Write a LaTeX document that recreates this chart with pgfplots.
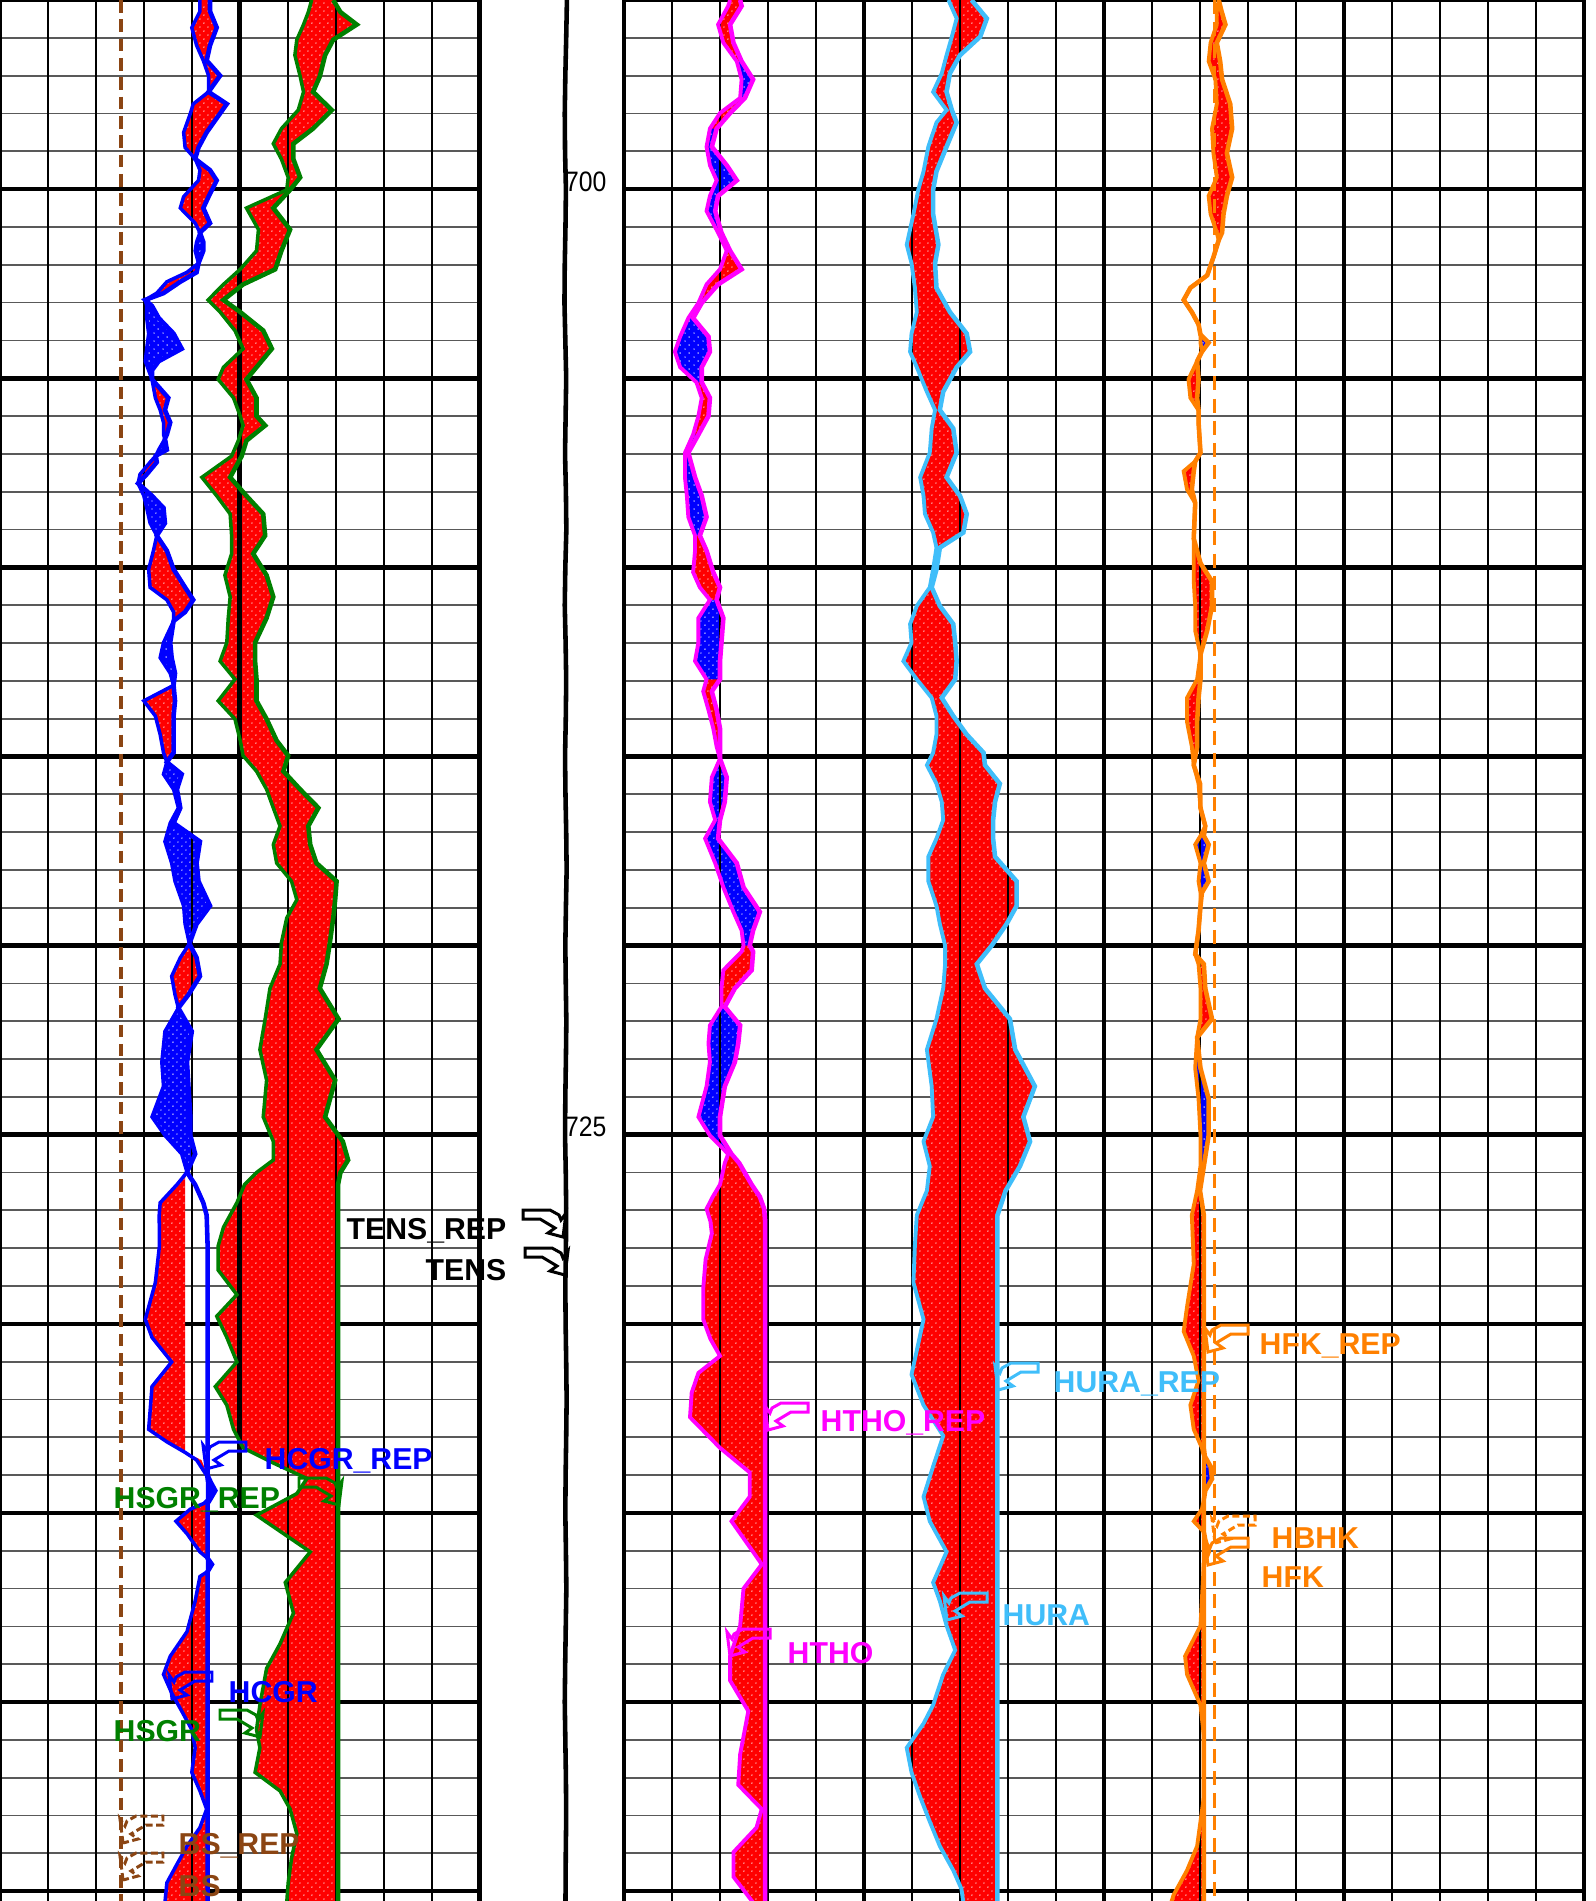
\documentclass[border=0pt]{standalone}
\usepackage{pgfplots}
\usepackage{pgfplotstable}
\pgfplotsset{compat=1.18}
\usepgfplotslibrary{fillbetween}
\usetikzlibrary{patterns}
\usepackage{fontspec}
\setmainfont{Liberation Sans}

\definecolor{cBlue}{RGB}{0,0,255}
\definecolor{cGreen}{RGB}{0,128,0}
\definecolor{cMag}{RGB}{255,0,255}
\definecolor{cSky}{RGB}{64,190,250}
\definecolor{cOrange}{RGB}{255,128,0}
\definecolor{cBrown}{RGB}{139,69,19}
\definecolor{cRed}{RGB}{255,0,0}

\pgfdeclarepatternformonly{tinydots}{\pgfqpoint{0pt}{0pt}}{\pgfqpoint{2.4pt}{2.4pt}}{\pgfqpoint{2.4pt}{2.4pt}}{%
  \pgfpathcircle{\pgfqpoint{0.6pt}{0.6pt}}{0.22pt}%
  \pgfpathcircle{\pgfqpoint{1.8pt}{1.8pt}}{0.22pt}%
  \pgfusepath{fill}}

\tikzset{
  pdots/.style={postaction={pattern=tinydots, pattern color=white}},
  vthin/.style={black, line width=0.55pt},
  vbold/.style={black, line width=1.4pt},
}

\pgfplotsset{
  track/.style={
    scale only axis, height=190.1mm, anchor=center,
    ymin=695, ymax=745.26, y dir=reverse,
    axis line style={draw=none},
    xtick=\empty,
    ytick={695,700,...,745}, minor ytick={695,...,745},
    ymajorgrids=true, yminorgrids=true,
    major grid style={black, line width=1.3pt},
    minor grid style={black!65, line width=0.5pt},
    yticklabels={}, tick style={draw=none},
    set layers, clip=false,
  },
}

\newcommand\redfill[2]{\addplot[cRed, pdots] fill between[of=#1 and #2, reverse=true];}
% blue fill over a depth interval: table, from, to, id
\newcommand\bluefill[4]{%
  \addplot[draw=none, forget plot, name path=bL#4, restrict y to domain=#2:#3] table[x=L,y=D] {#1};
  \addplot[draw=none, forget plot, name path=bR#4, restrict y to domain=#2:#3] table[x=R,y=D] {#1};
  \addplot[cBlue, pdots] fill between[of=bL#4 and bR#4, reverse=true];}
\newcommand\flag[5]{\draw[#3, line width=0.85pt, line join=miter, shift={(#1,#2)}, xscale=#4, #5] (0,0) -- (-3,-24) -- (2,-17) -- (4,-22) -- (13,-27) -- (40,-27) -- (40,-18) -- (23,-18) -- (8,-9) -- (15,-4) -- cycle;}

% ---------------- data ----------------
\pgfplotstableread[row sep=\\]{
D L R F \\
695.00 4.17 4.38 4.38 \\
695.30 4.17 4.38 4.38 \\
695.73 4.00 4.52 4.52 \\
696.20 4.10 4.38 4.38 \\
696.60 4.24 4.31 4.31 \\
697.00 4.35 4.59 4.59 \\
697.43 4.35 4.35 4.35 \\
697.75 4.03 4.73 4.73 \\
698.00 3.97 4.59 4.59 \\
698.50 3.83 4.31 4.31 \\
698.90 3.86 4.14 4.14 \\
699.20 4.07 4.07 4.07 \\
699.50 4.17 4.38 4.38 \\
699.77 4.14 4.52 4.52 \\
700.20 3.83 4.35 4.35 \\
700.50 3.76 4.24 4.24 \\
700.90 4.07 4.38 4.38 \\
701.15 4.17 4.17 4.17 \\
701.40 4.10 4.24 4.24 \\
701.63 4.07 4.24 4.24 \\
701.96 4.14 4.14 4.14 \\
702.20 3.90 4.10 4.10 \\
702.45 3.48 3.76 3.76 \\
702.75 3.27 3.41 3.41 \\
702.93 3.03 3.03 3.03 \\
703.09 3.06 3.17 3.17 \\
703.41 3.06 3.31 3.31 \\
703.82 3.10 3.62 3.62 \\
704.22 3.06 3.79 3.79 \\
704.55 3.03 3.31 3.31 \\
704.79 3.10 3.17 3.17 \\
705.03 3.17 3.17 3.17 \\
705.52 3.24 3.51 3.51 \\
705.84 3.34 3.44 3.44 \\
706.17 3.41 3.55 3.55 \\
706.49 3.41 3.48 3.48 \\
706.60 3.44 3.44 3.44 \\
706.89 3.31 3.48 3.48 \\
707.05 3.25 3.25 3.25 \\
707.22 3.13 3.27 3.27 \\
707.54 2.92 3.06 3.06 \\
707.78 2.88 2.88 2.88 \\
708.11 3.00 3.17 3.17 \\
708.43 3.06 3.41 3.41 \\
708.83 3.13 3.44 3.44 \\
709.16 3.27 3.27 3.27 \\
709.56 3.20 3.48 3.48 \\
710.05 3.10 3.62 3.62 \\
710.53 3.13 3.86 3.86 \\
710.86 3.48 4.03 4.03 \\
711.18 3.62 3.86 3.86 \\
711.42 3.62 3.62 3.62 \\
711.99 3.41 3.55 3.55 \\
712.39 3.34 3.58 3.58 \\
712.80 3.55 3.65 3.65 \\
713.12 3.62 3.62 3.62 \\
713.53 3.00 3.65 3.65 \\
713.93 3.24 3.62 3.62 \\
714.42 3.34 3.62 3.62 \\
714.90 3.41 3.62 3.62 \\
715.15 3.48 3.48 3.48 \\
715.47 3.41 3.79 3.79 \\
715.87 3.62 3.69 3.69 \\
716.36 3.72 3.76 3.76 \\
716.76 3.55 3.62 3.62 \\
717.25 3.44 4.17 4.17 \\
717.82 3.58 4.10 4.10 \\
718.30 3.65 4.14 4.14 \\
718.95 3.83 4.38 4.38 \\
719.43 3.86 4.10 4.10 \\
719.95 3.95 3.95 3.95 \\
720.32 3.76 4.10 4.10 \\
720.81 3.58 4.17 4.17 \\
721.30 3.65 3.93 3.93 \\
721.65 3.72 3.72 3.72 \\
722.27 3.44 4.00 4.00 \\
723.08 3.375 3.90 3.90 \\
723.72 3.41 3.93 3.93 \\
724.53 3.17 3.97 3.97 \\
725.02 3.44 3.97 3.97 \\
725.51 3.79 4.07 4.07 \\
725.99 3.90 3.90 3.90 \\
726.15 3.80 3.98 3.86 \\
726.32 3.69 4.07 3.86 \\
726.80 3.34 4.24 3.86 \\
727.13 3.32 4.31 3.86 \\
727.94 3.325 4.33 3.86 \\
728.91 3.24 4.33 3.86 \\
729.88 3.03 4.33 3.86 \\
730.36 3.17 4.33 3.86 \\
731.01 3.58 4.33 3.86 \\
731.66 3.17 4.33 3.86 \\
732.31 3.13 4.33 3.86 \\
732.79 3.10 4.33 3.86 \\
733.12 3.48 4.33 3.86 \\
733.40 3.86 4.33 3.86 \\
733.60 4.10 4.33 4.20 \\
734.01 4.31 4.33 4.33 \\
734.20 4.33 4.40 4.40 \\
734.41 4.33 4.49 4.49 \\
734.65 4.33 4.38 4.38 \\
734.75 4.25 4.33 4.33 \\
734.90 3.97 4.33 4.33 \\
735.22 3.67 4.33 4.33 \\
735.55 3.90 4.33 4.33 \\
736.03 4.17 4.33 4.33 \\
736.20 4.33 4.33 4.33 \\
736.36 4.33 4.42 4.42 \\
736.55 4.33 4.33 4.33 \\
736.68 4.17 4.33 4.33 \\
737.33 4.07 4.33 4.33 \\
738.14 3.90 4.33 4.33 \\
738.79 3.55 4.33 4.33 \\
739.27 3.41 4.33 4.33 \\
739.76 3.58 4.33 4.33 \\
740.24 3.79 4.33 4.33 \\
740.73 4.00 4.33 4.33 \\
741.21 4.07 4.33 4.33 \\
741.86 4.00 4.33 4.33 \\
742.35 4.17 4.33 4.33 \\
742.83 4.31 4.33 4.33 \\
743.32 4.17 4.33 4.33 \\
743.81 3.90 4.33 4.33 \\
744.29 3.69 4.33 4.33 \\
744.78 3.48 4.33 4.33 \\
745.30 3.44 4.33 4.33 \\
}\hcgr

\pgfplotstableread[row sep=\\]{
D L R \\
695.00 6.50 6.95 \\
695.32 6.43 7.10 \\
695.65 6.33 7.44 \\
696.05 6.19 6.95 \\
696.46 6.15 6.78 \\
697.02 6.26 6.67 \\
697.43 6.33 6.53 \\
697.91 6.22 6.92 \\
698.40 5.87 6.53 \\
698.80 5.70 6.12 \\
699.21 5.87 6.12 \\
699.69 6.01 6.26 \\
700.02 5.98 6.05 \\
700.50 5.14 5.70 \\
701.07 5.39 6.05 \\
701.63 5.35 5.87 \\
702.12 5.01 5.74 \\
702.52 4.66 5.07 \\
702.93 4.34 4.66 \\
703.25 4.59 5.01 \\
703.74 4.90 5.49 \\
704.22 5.07 5.67 \\
704.71 4.66 5.35 \\
705.03 4.55 5.14 \\
705.52 4.87 5.35 \\
706.00 5.01 5.35 \\
706.25 5.07 5.53 \\
706.65 4.97 5.14 \\
707.06 4.83 5.04 \\
707.62 4.21 4.80 \\
708.11 4.52 5.14 \\
708.59 4.80 5.49 \\
709.16 4.83 5.53 \\
709.64 4.83 5.28 \\
710.21 4.69 5.56 \\
710.78 4.80 5.70 \\
711.34 4.76 5.56 \\
711.99 4.73 5.32 \\
712.48 4.59 5.32 \\
712.96 4.90 5.35 \\
713.53 4.55 5.35 \\
714.01 4.90 5.56 \\
714.58 5.01 5.77 \\
714.98 5.07 6.01 \\
715.39 5.35 5.91 \\
715.87 5.56 6.26 \\
716.36 5.70 6.64 \\
716.84 5.84 6.43 \\
717.33 5.70 6.47 \\
717.82 5.77 6.60 \\
718.30 6.08 7.02 \\
718.79 6.19 6.99 \\
719.27 5.98 6.95 \\
719.92 5.87 6.88 \\
720.49 5.84 6.81 \\
721.13 5.63 6.67 \\
721.94 5.53 7.06 \\
722.75 5.42 6.60 \\
723.56 5.56 6.99 \\
724.53 5.49 6.78 \\
725.18 5.70 7.15 \\
725.67 5.70 7.26 \\
726.00 5.35 7.10 \\
726.32 5.10 7.05 \\
726.80 4.94 7.05 \\
727.45 4.66 7.05 \\
727.94 4.55 7.05 \\
728.58 4.55 7.05 \\
729.23 4.94 7.05 \\
729.80 4.52 7.05 \\
730.36 4.73 7.05 \\
731.01 4.94 7.05 \\
731.66 4.49 7.05 \\
732.15 4.73 7.05 \\
732.79 4.87 7.05 \\
733.28 5.07 7.05 \\
733.68 5.70 7.05 \\
734.09 6.40 7.05 \\
734.49 6.19 7.05 \\
735.06 5.35 7.05 \\
736.03 6.47 7.05 \\
736.84 5.95 7.05 \\
737.65 6.12 7.05 \\
738.46 5.84 7.05 \\
739.11 5.56 7.05 \\
740.08 5.42 7.05 \\
740.73 5.35 7.05 \\
741.21 5.42 7.05 \\
741.86 5.32 7.05 \\
742.35 5.84 7.05 \\
742.83 6.05 7.05 \\
743.48 6.19 7.05 \\
744.13 6.08 7.05 \\
744.78 6.01 7.05 \\
745.30 5.98 7.05 \\
}\hsgr

\pgfplotstableread[row sep=\\]{
D L R \\
695.00 2.21 2.42 \\
695.16 2.17 2.45 \\
695.65 1.96 2.21 \\
696.13 2.07 2.28 \\
696.62 2.35 2.45 \\
697.10 2.45 2.69 \\
697.59 2.42 2.52 \\
697.99 2.00 2.21 \\
698.40 1.79 1.93 \\
698.88 1.72 1.83 \\
699.37 1.79 2.14 \\
699.77 1.93 2.35 \\
700.18 1.79 1.96 \\
700.58 1.72 1.90 \\
701.15 1.96 2.03 \\
701.63 2.14 2.21 \\
702.12 2.00 2.45 \\
702.52 1.72 1.96 \\
703.01 1.55 1.62 \\
703.41 1.34 1.44 \\
703.90 1.17 1.76 \\
704.30 1.06 1.79 \\
704.71 1.17 1.62 \\
705.11 1.51 1.62 \\
705.52 1.62 1.79 \\
706.00 1.55 1.76 \\
706.49 1.44 1.55 \\
706.97 1.27 1.34 \\
707.62 1.27 1.48 \\
708.11 1.31 1.62 \\
708.67 1.34 1.72 \\
709.16 1.48 1.58 \\
709.56 1.48 1.72 \\
710.13 1.44 1.86 \\
710.53 1.58 2.00 \\
710.86 1.79 1.93 \\
711.34 1.55 2.07 \\
711.99 1.55 2.03 \\
712.48 1.48 2.00 \\
712.96 1.72 2.00 \\
713.28 1.65 1.83 \\
713.77 1.76 1.93 \\
714.26 1.86 2.00 \\
714.74 1.93 2.00 \\
715.06 2.00 2.00 \\
715.55 1.83 2.14 \\
716.20 1.79 2.10 \\
716.68 1.90 2.00 \\
717.17 1.69 1.96 \\
717.82 1.90 2.35 \\
718.46 2.07 2.49 \\
719.11 2.28 2.83 \\
719.60 2.45 2.69 \\
720.00 2.49 2.62 \\
720.16 2.45 2.69 \\
720.65 2.07 2.66 \\
721.13 2.03 2.31 \\
721.62 2.03 2.10 \\
722.11 1.79 2.42 \\
722.59 1.76 2.38 \\
723.08 1.79 2.31 \\
723.72 1.72 2.10 \\
724.53 1.55 2.00 \\
725.02 1.79 2.00 \\
725.51 2.17 2.24 \\
725.75 2.10 2.40 \\
726.32 2.00 2.66 \\
726.64 1.85 2.83 \\
726.96 1.72 2.92 \\
727.29 1.80 2.94 \\
727.61 1.83 2.94 \\
728.30 1.70 2.94 \\
729.07 1.65 2.94 \\
729.88 1.65 2.94 \\
730.40 1.80 2.94 \\
730.85 2.00 2.94 \\
731.30 1.55 2.94 \\
731.82 1.41 2.94 \\
732.47 1.375 2.94 \\
733.28 2.00 2.94 \\
733.93 2.62 2.94 \\
734.57 2.62 2.94 \\
735.22 2.24 2.94 \\
736.03 2.69 2.94 \\
736.36 2.87 2.94 \\
737.00 2.49 2.94 \\
737.98 2.42 2.94 \\
738.79 2.21 2.94 \\
739.43 2.21 2.94 \\
740.24 2.59 2.94 \\
741.38 2.42 2.94 \\
742.19 2.38 2.94 \\
742.83 2.87 2.94 \\
743.32 2.76 2.94 \\
743.97 2.28 2.94 \\
744.62 2.28 2.94 \\
745.30 2.69 2.94 \\
}\htho

\pgfplotstableread[row sep=\\]{
D L R \\
695.00 6.76 7.24 \\
695.49 6.93 7.56 \\
695.97 6.83 7.42 \\
696.46 6.72 7.00 \\
696.94 6.62 6.79 \\
697.43 6.44 6.72 \\
697.91 6.72 6.83 \\
698.24 6.51 6.93 \\
698.88 6.34 6.72 \\
699.53 6.24 6.51 \\
700.02 6.13 6.44 \\
700.66 6.03 6.44 \\
701.47 5.89 6.55 \\
701.96 5.99 6.48 \\
702.61 6.06 6.51 \\
703.25 6.10 6.79 \\
703.82 5.99 7.14 \\
704.30 5.96 7.21 \\
704.71 6.10 6.93 \\
705.36 6.31 6.65 \\
705.84 6.48 6.58 \\
706.33 6.41 6.86 \\
706.97 6.37 6.93 \\
707.62 6.17 6.72 \\
708.11 6.24 7.00 \\
708.59 6.27 7.14 \\
709.08 6.44 7.07 \\
709.48 6.51 6.58 \\
710.05 6.44 6.51 \\
710.53 6.37 6.41 \\
711.02 6.10 6.58 \\
711.50 5.96 6.86 \\
711.99 5.99 6.90 \\
712.48 5.82 6.93 \\
712.96 6.10 6.90 \\
713.45 6.41 6.62 \\
713.93 6.51 6.86 \\
714.42 6.51 7.14 \\
714.90 6.44 7.49 \\
715.23 6.31 7.52 \\
715.72 6.51 7.83 \\
716.20 6.62 7.73 \\
716.68 6.65 7.69 \\
717.17 6.51 7.69 \\
717.65 6.34 7.73 \\
718.30 6.34 8.18 \\
718.95 6.51 8.18 \\
719.43 6.58 7.97 \\
720.00 6.69 7.66 \\
720.49 6.69 7.35 \\
721.13 6.65 7.52 \\
721.94 6.51 8.04 \\
722.75 6.31 8.15 \\
723.72 6.41 8.56 \\
724.53 6.44 8.32 \\
725.18 6.24 8.46 \\
725.83 6.37 8.25 \\
726.48 6.31 7.95 \\
727.13 6.10 7.78 \\
727.94 6.06 7.78 \\
728.91 6.03 7.78 \\
729.88 6.24 7.78 \\
730.53 6.13 7.78 \\
731.34 5.99 7.78 \\
732.15 6.24 7.78 \\
732.96 6.65 7.78 \\
733.77 6.44 7.78 \\
734.57 6.24 7.78 \\
735.22 6.37 7.78 \\
736.03 6.72 7.78 \\
736.84 6.44 7.78 \\
737.33 6.58 7.78 \\
737.98 6.72 7.78 \\
738.63 6.90 7.78 \\
739.27 6.65 7.78 \\
740.08 6.44 7.78 \\
740.57 6.24 7.78 \\
741.21 5.89 7.78 \\
741.86 5.99 7.78 \\
742.51 6.17 7.78 \\
743.16 6.37 7.78 \\
743.81 6.58 7.78 \\
744.45 6.86 7.78 \\
744.94 7.03 7.78 \\
745.30 7.07 7.78 \\
}\hura

\pgfplotstableread[row sep=\\]{
D L R \\
695.00 12.39 12.39 \\
695.30 12.35 12.45 \\
695.65 12.35 12.53 \\
696.13 12.22 12.35 \\
696.62 12.18 12.42 \\
697.10 12.32 12.46 \\
697.75 12.35 12.63 \\
698.40 12.25 12.67 \\
699.05 12.28 12.56 \\
699.69 12.35 12.67 \\
700.18 12.18 12.56 \\
700.66 12.22 12.49 \\
701.15 12.35 12.46 \\
701.35 12.39 12.39 \\
701.80 12.28 12.28 \\
702.28 12.15 12.15 \\
702.61 11.80 11.80 \\
702.93 11.66 11.66 \\
703.25 11.83 11.83 \\
703.58 11.97 11.97 \\
703.85 12.01 12.01 \\
704.06 12.01 12.18 \\
704.30 12.04 12.04 \\
704.55 11.94 11.94 \\
705.03 11.76 11.97 \\
705.52 11.80 11.94 \\
705.85 11.97 11.97 \\
706.17 11.97 11.97 \\
706.97 12.01 12.01 \\
707.20 11.90 11.90 \\
707.46 11.66 11.87 \\
707.94 11.73 11.83 \\
708.30 11.90 11.90 \\
709.24 11.87 11.87 \\
709.89 11.87 12.01 \\
710.37 11.87 12.25 \\
711.02 11.90 12.25 \\
711.67 11.90 12.15 \\
712.31 12.01 12.01 \\
712.96 11.94 12.01 \\
713.45 11.73 11.97 \\
714.09 11.73 11.94 \\
714.74 11.83 11.94 \\
715.23 11.87 11.87 \\
715.72 11.97 12.00 \\
716.36 12.01 12.01 \\
716.84 12.11 12.11 \\
717.10 12.01 12.08 \\
717.33 11.90 12.18 \\
717.82 12.01 12.08 \\
718.30 11.97 12.18 \\
718.60 12.01 12.04 \\
718.95 12.01 12.01 \\
719.60 11.97 11.97 \\
720.23 11.90 11.90 \\
720.49 11.97 12.08 \\
721.13 12.01 12.11 \\
721.94 12.01 12.25 \\
722.43 11.94 11.94 \\
723.24 11.90 12.01 \\
724.05 11.97 12.18 \\
725.02 12.01 12.18 \\
725.83 12.01 12.08 \\
726.48 11.94 12.00 \\
727.13 11.83 12.08 \\
728.42 11.87 12.08 \\
729.55 11.73 12.08 \\
730.20 11.66 12.08 \\
730.85 11.87 12.08 \\
731.50 11.97 12.08 \\
732.15 11.80 12.08 \\
732.79 11.87 12.08 \\
733.28 12.04 12.08 \\
733.50 12.08 12.10 \\
733.77 12.08 12.22 \\
734.10 12.08 12.25 \\
734.41 12.08 12.11 \\
734.65 12.08 12.08 \\
734.90 12.04 12.08 \\
735.22 11.87 12.08 \\
735.50 12.08 12.08 \\
735.71 12.08 12.11 \\
736.03 12.08 12.18 \\
736.35 12.08 12.08 \\
737.98 12.01 12.08 \\
738.79 11.69 12.08 \\
739.27 11.73 12.08 \\
740.08 12.01 12.08 \\
740.89 12.08 12.08 \\
742.51 12.08 12.08 \\
743.16 12.01 12.08 \\
743.81 11.94 12.08 \\
744.45 11.73 12.08 \\
745.10 11.45 12.08 \\
745.30 11.40 12.08 \\
}\hfk

\pgfplotstableread[row sep=\\]{
D T \\
695 0.605 \\ 696 0.600 \\ 697 0.594 \\ 698 0.590 \\ 699 0.592 \\ 700 0.598 \\
701 0.595 \\ 702 0.590 \\ 703 0.588 \\ 704 0.594 \\ 705 0.600 \\ 706 0.596 \\
707 0.592 \\ 708 0.598 \\ 709 0.601 \\ 710 0.594 \\ 711 0.590 \\ 712 0.596 \\
713 0.600 \\ 714 0.597 \\ 715 0.592 \\ 716 0.595 \\ 717 0.600 \\ 718 0.603 \\
719 0.598 \\ 720 0.594 \\ 721 0.597 \\ 722 0.601 \\ 723 0.598 \\ 724 0.594 \\
725 0.592 \\ 726 0.597 \\ 727 0.600 \\ 728 0.598 \\ 729 0.594 \\ 730 0.596 \\
731 0.600 \\ 732 0.603 \\ 733 0.600 \\ 734 0.596 \\ 735 0.594 \\ 736 0.598 \\
737 0.601 \\ 738 0.597 \\ 739 0.593 \\ 740 0.590 \\ 741 0.594 \\ 742 0.598 \\
743 0.600 \\ 744 0.597 \\ 745.3 0.595 \\
}\tens

\begin{document}
\begin{tikzpicture}

% ---------------- left track ----------------
\begin{axis}[track, at={(23.975mm,95.05mm)}, width=47.95mm, xmin=0, xmax=10]
\pgfplotsinvokeforeach{1,2,3,4,6,7,8,9}{\draw[vthin] (axis cs:#1,694.5) -- (axis cs:#1,745.5);}
\pgfplotsinvokeforeach{0,5,10}{\draw[vbold] (axis cs:#1,694.5) -- (axis cs:#1,745.5);}
\addplot[cBrown, line width=1.1pt, dash pattern=on 3.6pt off 1.9pt] coordinates {(2.52,695) (2.52,745.3)};
\addplot[cGreen, line width=1.0pt, name path=sgL] table[x=L,y=D] {\hsgr};
\addplot[cGreen, line width=1.3pt, name path=sgR] table[x=R,y=D] {\hsgr};
\addplot[cBlue, line width=1.0pt, name path=cgL] table[x=L,y=D] {\hcgr};
\addplot[cBlue, line width=1.3pt, name path=cgR] table[x=R,y=D] {\hcgr};
\addplot[draw=none, name path=cgF] table[x=F,y=D] {\hcgr};
\redfill{sgL}{sgR}
\redfill{cgL}{cgF}
\bluefill{\hcgr}{701.145}{701.965}{a}
\bluefill{\hcgr}{702.925}{705.035}{b}
\bluefill{\hcgr}{706.595}{707.055}{c}
\bluefill{\hcgr}{707.775}{709.165}{d}
\bluefill{\hcgr}{711.415}{713.125}{e}
\bluefill{\hcgr}{715.145}{719.955}{f}
\bluefill{\hcgr}{721.645}{725.995}{g}
\bluefill{\hcgr}{734.005}{734.755}{h}
\bluefill{\hcgr}{736.195}{736.555}{i}
\end{axis}

% ---------------- depth track ----------------
\begin{axis}[scale only axis, height=190.1mm, width=14.45mm, at={(55.175mm,95.05mm)}, anchor=center,
  xmin=0, xmax=1, ymin=695, ymax=745.26, y dir=reverse, hide axis, clip=false]
\addplot[black, line width=1.3pt] table[x=T,y=D] {\tens};
\end{axis}

% ---------------- right track ----------------
\begin{axis}[track, at={(110.4mm,95.05mm)}, width=96mm, xmin=0, xmax=20]
\pgfplotsinvokeforeach{1,2,3,4,6,7,8,9,11,12,13,14,16,17,18,19}{\draw[vthin] (axis cs:#1,694.5) -- (axis cs:#1,745.5);}
\pgfplotsinvokeforeach{0,5,10,15,20}{\draw[vbold] (axis cs:#1,694.5) -- (axis cs:#1,745.5);}
\addplot[cOrange, line width=0.9pt, dash pattern=on 4pt off 2.3pt] coordinates {(12.31,695) (12.31,745.3)};
\addplot[cMag, line width=1.1pt, name path=thL] table[x=L,y=D] {\htho};
\addplot[cMag, line width=1.3pt, name path=thR] table[x=R,y=D] {\htho};
\addplot[cSky, line width=1.1pt, name path=urL] table[x=L,y=D] {\hura};
\addplot[cSky, line width=1.3pt, name path=urR] table[x=R,y=D] {\hura};
\addplot[cOrange, line width=1.1pt, name path=fkL] table[x=L,y=D] {\hfk};
\addplot[cOrange, line width=1.3pt, name path=fkR] table[x=R,y=D] {\hfk};
\redfill{thL}{thR}
\redfill{urL}{urR}
\redfill{fkL}{fkR}
\bluefill{\htho}{696.615}{697.595}{ta}
\bluefill{\htho}{698.395}{701.155}{tb}
\bluefill{\htho}{703.005}{705.115}{tc}
\bluefill{\htho}{706.485}{709.165}{td}
\bluefill{\htho}{710.855}{712.965}{te}
\bluefill{\htho}{715.055}{720.005}{tf}
\bluefill{\htho}{721.615}{725.515}{tg}
\bluefill{\hfk}{703.845}{704.305}{fa}
\bluefill{\hfk}{716.835}{718.955}{fb}
\bluefill{\hfk}{722.425}{726.485}{fc}
\bluefill{\hfk}{733.275}{734.655}{fd}
\bluefill{\hfk}{735.495}{736.355}{fe}
\end{axis}

% ---------------- labels (pixel frame of the reference) ----------------
\begin{scope}[x=0.1mm, y=-0.1mm, shift={(0,190.1mm)}]
\tikzset{lab/.style={inner sep=0pt, font=\bfseries\fontsize{8.6}{8.6}\selectfont}}
\node[anchor=east, inner sep=0pt, font=\fontsize{8}{8}\selectfont, xscale=0.88] at (607,182) {700};
\node[anchor=east, inner sep=0pt, font=\fontsize{8}{8}\selectfont, xscale=0.88] at (607,1127) {725};

\flag{563}{1237}{black}{-1}{}
\node[lab, anchor=east, text=black] at (507,1231) {TENS\_REP};
\flag{565}{1275}{black}{-1}{}
\node[lab, anchor=east, text=black] at (507,1270) {TENS};

\flag{206}{1469}{cBlue}{1}{}
\node[lab, anchor=west, text=cBlue] at (264,1461) {HCGR\_REP};
\flag{339}{1505}{cGreen}{-1}{}
\node[lab, anchor=west, text=cGreen] at (113,1500) {HSGR\_REP};
\flag{172}{1699}{cBlue}{1}{}
\node[lab, anchor=west, text=cBlue] at (228,1692) {HCGR};
\flag{260}{1737}{cGreen}{-1}{}
\node[lab, anchor=west, text=cGreen] at (113,1731) {HSGR};
\flag{123}{1843}{cBrown}{1}{dash pattern=on 2pt off 1pt}
\node[lab, anchor=west, text=cBrown] at (178,1846) {BS\_REP};
\flag{123}{1880}{cBrown}{1}{dash pattern=on 2pt off 1pt}
\node[lab, anchor=west, text=cBrown] at (178,1886) {BS};

\flag{768}{1430}{cMag}{1}{}
\node[lab, anchor=west, text=cMag] at (820,1423) {HTHO\_REP};
\flag{730}{1656}{cMag}{1}{}
\node[lab, anchor=west, text=cMag] at (787,1653) {HTHO};
\flag{998}{1390}{cSky}{1}{}
\node[lab, anchor=west, text=cSky] at (1053,1384) {HURA\_REP};
\flag{947}{1620}{cSky}{1}{}
\node[lab, anchor=west, text=cSky] at (1002,1615) {HURA};
\flag{1208}{1352}{cOrange}{1}{}
\node[lab, anchor=west, text=cOrange] at (1259,1346) {HFK\_REP};
\flag{1215}{1543}{cOrange}{1}{dash pattern=on 2pt off 1pt}
\node[lab, anchor=west, text=cOrange] at (1271,1538) {HBHK};
\flag{1208}{1565}{cOrange}{1}{}
\node[lab, anchor=west, text=cOrange] at (1261,1577) {HFK};
\end{scope}
\pgfresetboundingbox
\useasboundingbox (0,0) rectangle (159.6mm,190.1mm);
\end{tikzpicture}
\end{document}
